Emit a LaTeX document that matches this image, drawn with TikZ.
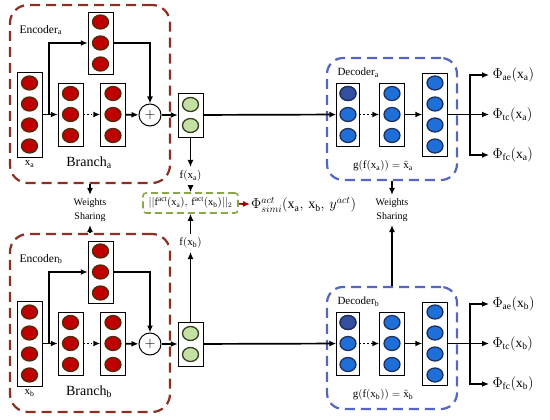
\documentclass[tikz,border=0pt]{standalone}
\usepackage{fontspec}
\setmainfont{Liberation Serif}
\usepackage{tikz}
\usetikzlibrary{shapes.geometric,arrows.meta}

\definecolor{encline}{HTML}{8B2F22}
\definecolor{decline}{HTML}{5566C0}
\definecolor{simline}{HTML}{8AA84A}
\definecolor{dotred}{HTML}{C00000}
\definecolor{dotbrown}{HTML}{4B2E0E}
\definecolor{dotgreen}{HTML}{C5E0A4}
\definecolor{dotolive}{HTML}{2F3F1F}
\definecolor{dotblue}{HTML}{1F6FD8}
\definecolor{dotnavy}{HTML}{1F2F5F}
\definecolor{dotdark}{HTML}{34509E}

\begin{document}
\begin{tikzpicture}[x=1pt,y=-1pt,
    col/.style={draw,fill=white,minimum width=25pt,inner sep=0pt},
    dot/.style={ellipse,line width=1.3pt,minimum width=16pt,minimum height=14pt,inner sep=0pt},
    encdot/.style={dot,draw=dotbrown,fill=dotred},
    featdot/.style={dot,draw=dotolive,fill=dotgreen},
    decdot/.style={dot,draw=dotnavy,fill=dotblue},
    encbox/.style={draw=encline,line width=2.2pt,dash pattern=on 10pt off 6pt,rounded corners=18pt,minimum width=160pt,minimum height=178pt},
    decbox/.style={draw=decline,line width=2.2pt,dash pattern=on 10pt off 6pt,rounded corners=16pt,minimum width=130pt,minimum height=122pt},
    simbox/.style={draw=simline,line width=1.6pt,dash pattern=on 7pt off 4pt,rounded corners=3pt,minimum width=95pt,minimum height=20pt,inner sep=1pt},
    lab/.style={font=\fontsize{11}{12}\selectfont},
    philab/.style={anchor=west,font=\fontsize{13.5}{15}\selectfont},
    >={Latex[length=7pt,width=6pt]},
    arr/.style={->,line width=1.7pt}]
\useasboundingbox (0,0) rectangle (550,420);

% two encoders
\foreach \s/\dy in {a/0,b/229}{
  \begin{scope}[yshift=-\dy pt]
    \node[encbox] (enc\s) at (90,94) {};
    \node[col,minimum height=85pt] (in\s) at (29.5,114.5) {};
    \foreach \i in {1,...,4} \node[encdot] (in\s\i) at (29.5,62+21*\i) {};
    \node[col,minimum height=62pt] (top\s) at (100.5,43) {};
    \foreach \i in {1,2,3} \node[encdot] (top\s\i) at (100.5,1+21*\i) {};
    \node[col,minimum height=63pt] (bra\s) at (70.5,114.5) {};
    \foreach \i in {1,2,3} \node[encdot] (bra\s\i) at (70.5,72.5+21*\i) {};
    \node[col,minimum height=63pt] (brb\s) at (113,114.5) {};
    \foreach \i in {1,2,3} \node[encdot] (brb\s\i) at (113,72.5+21*\i) {};
    \node[circle,draw,line width=1pt,fill=white,minimum size=22pt,inner sep=0pt] (sum\s) at (150,115) {\Large$+$};
    \node[col,minimum height=44pt] (feat\s) at (190.5,115) {};
    \foreach \i in {1,2} \node[featdot] (feat\s\i) at (190.5,83.5+21*\i) {};
    \coordinate (spl\s) at (49,114.5);
    \node[anchor=west,font=\fontsize{11.5}{13}\selectfont] (encl\s) at (16,30) {Encoder$_\mathrm{\s}$};
    \node[lab] (inl\s) at (29.5,164) {$\mathrm{x_\s}$};
    \node[font=\fontsize{14}{16}\selectfont] (brl\s) at (89,163) {Branch$_\mathrm{\s}$};
    \draw[arr] (in\s) -- (bra\s);
    \draw[arr] (spl\s) |- (top\s.west);
    \draw[arr] (top\s.east) -| (sum\s.north);
    \draw[arr,dotted] (bra\s) -- (brb\s);
    \draw[arr] (brb\s) -- (sum\s);
    \draw[arr] (sum\s) -- (feat\s);
  \end{scope}
}

% two decoders
\foreach \s/\dy in {a/0,b/229}{
  \begin{scope}[yshift=-\dy pt]
    \node[decbox] (dec\s) at (392,119) {};
    \node[col,minimum width=23pt,minimum height=63pt] (dca\s) at (348,114.5) {};
    \foreach \i in {1,2,3} \node[decdot] (dca\s\i) at (348,72.5+21*\i) {};
    \node[decdot,fill=dotdark] at (dca\s1) {};
    \node[col,minimum height=63pt] (dcb\s) at (392,114.5) {};
    \foreach \i in {1,2,3} \node[decdot] (dcb\s\i) at (392,72.5+21*\i) {};
    \node[col,minimum height=83pt] (dcc\s) at (435,114.5) {};
    \foreach \i in {1,...,4} \node[decdot] (dcc\s\i) at (435,62+21*\i) {};
    \coordinate (out\s) at (470,114.5);
    \node[anchor=west,font=\fontsize{11}{13}\selectfont] (decl\s) at (334,73) {Decoder$_\mathrm{\s}$};
    \node[lab] (rec\s) at (383,166) {$\mathrm{g(f(x_\s))} = \tilde{\mathrm{x}}_\mathrm{\s}$};
    \node[philab] (ae\s) at (489,75) {$\Phi_\mathrm{ae}(\mathrm{x_\s})$};
    \node[philab] (tc\s) at (489,114.5) {$\Phi_\mathrm{tc}(\mathrm{x_\s})$};
    \node[philab] (fc\s) at (489,155) {$\Phi_\mathrm{fc}(\mathrm{x_\s})$};
    \draw[arr,dotted] (dca\s) -- (dcb\s);
    \draw[arr] (dcb\s) -- (dcc\s);
    \draw[line width=1.7pt] (dcc\s) -- (out\s);
    \draw[arr] (out\s) |- (ae\s);
    \draw[arr] (out\s) -- (tc\s);
    \draw[arr] (out\s) |- (fc\s);
    \draw[arr] (feat\s) -- (dca\s);
  \end{scope}
}

% similarity in the middle
\node[lab] (fa) at (190.5,176) {$\mathrm{f(x_a)}$};
\node[lab] (fb) at (190.5,243) {$\mathrm{f(x_b)}$};
\node[simbox,font=\fontsize{10.5}{12}\selectfont] (dist) at (190.5,203) {$||\mathrm{f}^\mathrm{act}(\mathrm{x_a}),\,\mathrm{f}^\mathrm{act}(\mathrm{x_b})||_2$};
\node[anchor=west,inner sep=1pt,font=\fontsize{14}{16}\selectfont] (sim) at (250,205) {$\Phi^{act}_{simi}(\mathrm{x_a},\,\mathrm{x_b},\,y^{act})$};
\draw[arr] (feata) -- (fa);
\draw[arr] (fa) -- (dist);
\draw[arr] (featb) -- (fb);
\draw[arr] (fb) -- (dist);
\draw[arr,dotred!80!black] (dist) -- (sim);

% weight sharing
\node[align=center,font=\fontsize{10}{14}\selectfont] (wsl) at (90,210) {Weights\\Sharing};
\node[align=center,font=\fontsize{10}{14}\selectfont] (wsr) at (392,210) {Weights\\Sharing};
\draw[arr] (enca.south -| wsl) -- (wsl);
\draw[arr] (encb.north -| wsl) -- (wsl);
\draw[arr] (deca) -- (wsr);
\draw[arr] (decb) -- (wsr);
\end{tikzpicture}
\end{document}
